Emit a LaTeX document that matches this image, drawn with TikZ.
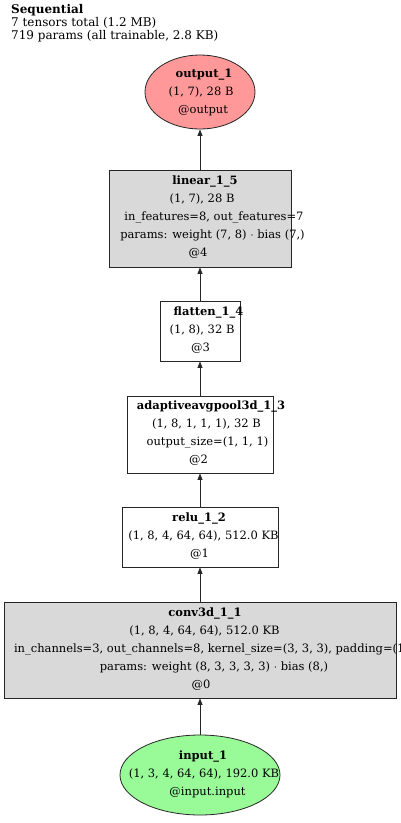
\documentclass[tikz,border=0pt]{standalone}
\usepackage{fontspec}
\setmainfont{DejaVu Serif}
\usetikzlibrary{shapes.geometric,arrows.meta}
\definecolor{boxgray}{HTML}{D9D9D9}
\definecolor{outred}{HTML}{FF9999}
\definecolor{ingreen}{HTML}{98FB98}
\newcommand{\sh}[1]{\hspace*{#1pt}\hspace*{#1pt}}
\begin{document}
\begin{tikzpicture}[x=1pt,y=-1pt,
  box/.style={draw=black!85, line width=0.8pt, rectangle, inner sep=0pt},
  gbox/.style={box, fill=boxgray},
  oval/.style={draw=black!85, line width=0.8pt, ellipse, inner sep=0pt},
  txt/.style={align=center, inner sep=0pt, font=\fontsize{11.5}{18}\selectfont},
  arr/.style={-{Triangle[length=6.5pt,width=5pt]}, line width=0.8pt, black!85}]
\useasboundingbox (0,0) rectangle (400,823);
\fill[white] (0,0) rectangle (400,823);
\node[anchor=north west, align=left, inner sep=0pt, font=\fontsize{12}{13}\selectfont] (hdr) at (11,4)
  {\textbf{Sequential}\\7 tensors total (1.2 MB)\\719 params (all trainable, 2.8 KB)};
% shapes
\node[oval, fill=outred, minimum width=110, minimum height=74] (out) at (200,92) {};
\node[gbox, minimum width=182, minimum height=97] (lin) at (200,218.5) {};
\node[box, fill=white, minimum width=80, minimum height=60] (fla) at (200,331) {};
\node[box, fill=white, minimum width=146, minimum height=77] (pool) at (200,434.5) {};
\node[box, fill=white, minimum width=156, minimum height=60] (relu) at (200,537) {};
\node[gbox, minimum width=392, minimum height=96] (conv) at (200,650) {};
\node[oval, fill=ingreen, minimum width=160, minimum height=80] (inp) at (200,775) {};
% texts
\node[txt] (tout) at (203,92.5) {\sh{1}\textbf{output\_1}\\\sh{-2}(1, 7), 28 B\\@output};
\node[txt] (tlin) at (203,217.5) {\sh{2}\textbf{linear\_1\_5}\\\sh{-1}(1, 7), 28 B\\\sh{11}in\_features=8, out\_features=7\\\sh{9.5}params: weight (7, 8) $\cdot$ bias (7,)\\\sh{-5}@4};
\node[txt] (tfla) at (203,330) {\sh{5.5}\textbf{flatten\_1\_4}\\\sh{-1}(1, 8), 32 B\\\sh{-2.5}@3};
\node[txt] (tpool) at (203,433.5) {\sh{8}\textbf{adaptiveavgpool3d\_1\_3}\\\sh{3.5}(1, 8, 1, 1, 1), 32 B\\\sh{4.5}output\_size=(1, 1, 1)\\\sh{-4.5}@2};
\node[txt] (trelu) at (203,536) {\sh{-4}\textbf{relu\_1\_2}\\\sh{0.5}(1, 8, 4, 64, 64), 512.0 KB\\\sh{-3.5}@1};
\node[txt] (tconv) at (203,649.5) {\sh{2}\textbf{conv3d\_1\_1}\\\sh{1.5}(1, 8, 4, 64, 64), 512.0 KB\\\hspace*{-378pt}\makebox[0pt][l]{in\_channels=3, out\_channels=8, kernel\_size=(3, 3, 3), padding=(1, 1, 1)}\\\sh{11}params: weight (8, 3, 3, 3, 3) $\cdot$ bias (8,)\\\sh{-2}@0};
\node[txt] (tinp) at (203,774.5) {\textbf{input\_1}\\\sh{1}(1, 3, 4, 64, 64), 192.0 KB\\\sh{4.5}@input.input};
% connectors
\draw[arr] (inp) -- (conv);
\draw[arr] (conv) -- (relu);
\draw[arr] (relu) -- (pool);
\draw[arr] (pool) -- (fla);
\draw[arr] (fla) -- (lin);
\draw[arr] (lin) -- (out);
\end{tikzpicture}
\end{document}
